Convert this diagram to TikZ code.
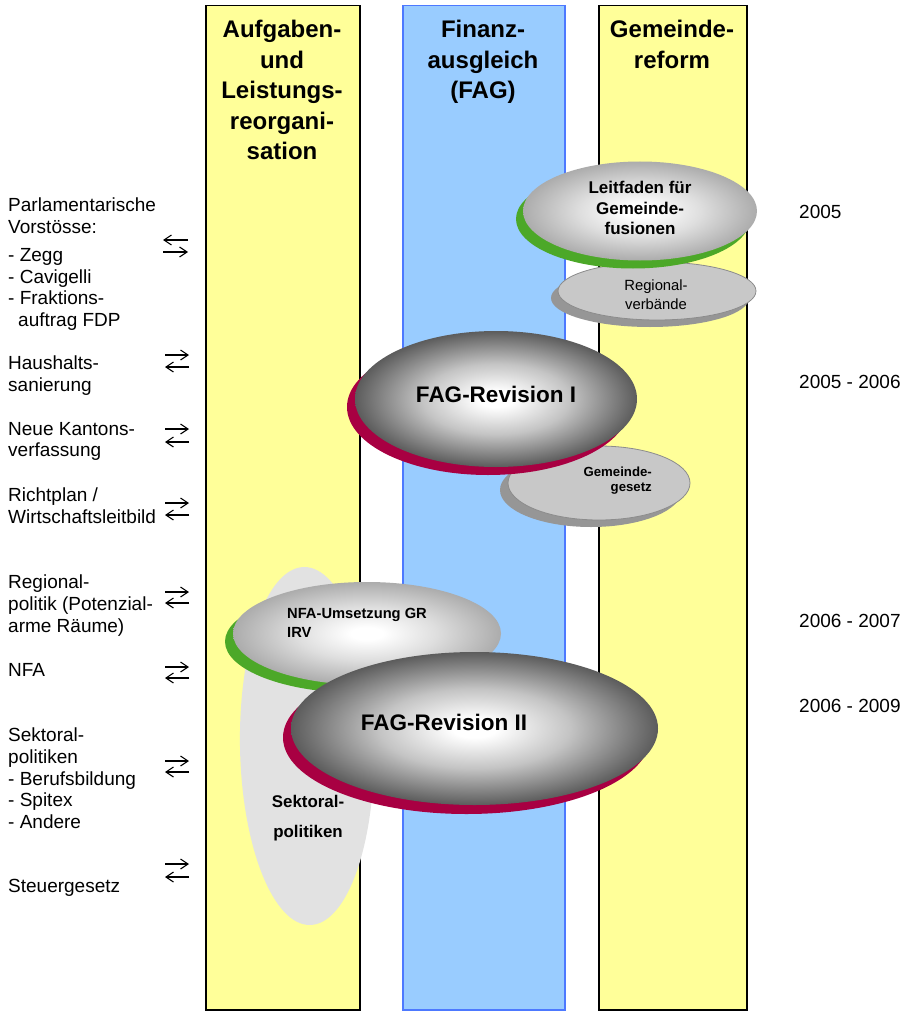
\documentclass[tikz,border=0pt]{standalone}
\usepackage{fontspec}
\setmainfont{Liberation Sans}
\usetikzlibrary{shapes.geometric,arrows.meta}
\definecolor{colyellow}{RGB}{255,255,153}
\definecolor{colblue}{RGB}{153,204,255}
\definecolor{colblueline}{RGB}{77,121,255}
\definecolor{shadgreen}{RGB}{76,168,40}
\definecolor{shadred}{RGB}{168,0,66}
\definecolor{darkedge}{RGB}{92,92,92}
\definecolor{darkmid}{RGB}{196,196,196}
\definecolor{lightedge}{RGB}{172,172,172}
\definecolor{lightmid}{RGB}{222,222,222}
\definecolor{diskface}{RGB}{200,200,200}
\definecolor{diskline}{RGB}{140,140,140}
\definecolor{diskshadow}{RGB}{150,150,150}
\definecolor{sektfill}{RGB}{226,226,226}
\pgfdeclareradialshading{darkball}{\pgfpoint{0bp}{0bp}}{color(0bp)=(white); color(3bp)=(white); color(13bp)=(darkmid); color(25bp)=(darkedge); color(50bp)=(darkedge)}
\pgfdeclareradialshading{lightball}{\pgfpoint{0bp}{0bp}}{color(0bp)=(white); color(3bp)=(white); color(13bp)=(lightmid); color(25bp)=(lightedge); color(50bp)=(lightedge)}
\tikzset{
  ybox/.style={draw=black, line width=1.5pt, fill=colyellow, inner sep=0pt, anchor=north west, minimum height=1004pt},
  bbox/.style={draw=colblueline, line width=1.5pt, fill=colblue, inner sep=0pt, anchor=north west, minimum height=1004pt},
  head/.style={anchor=north, inner sep=0pt, align=center, font=\fontsize{24}{30.5}\selectfont\bfseries},
  lefttext/.style={anchor=north west, inner sep=0pt, align=left, font=\fontsize{19}{21.6}\selectfont},
  yeartext/.style={anchor=base west, inner sep=0pt, font=\fontsize{19}{21.6}\selectfont},
  ell/.style={ellipse, inner sep=0pt, outer sep=0pt, draw=none},
  darkface/.style={ell, shade, shading=darkball},
  lightface/.style={ell, shade, shading=lightball},
  diskf/.style={ell, fill=diskface, draw=diskline, line width=0.8pt},
  disks/.style={ell, fill=diskshadow},
  dblarrow/.style={line width=1.1pt, -{Straight Barb[length=7.5pt,width=10pt]}}
}
\begin{document}
\begin{tikzpicture}[x=1pt,y=-1pt]
\useasboundingbox (0,0) rectangle (908,1011);
% columns
\node[ybox, minimum width=154pt] (col1) at (205,5) {};
\node[bbox, minimum width=162pt] (col2) at (402,5) {};
\node[ybox, minimum width=148pt] (col3) at (598,5) {};
% headers
\node[head] (h1) at (282,20.3) {Aufgaben-\\und\\Leistungs-\\reorgani-\\sation};
\node[head] (h2) at (483,20.3) {Finanz-\\ausgleich\\(FAG)};
\node[head] (h3) at (672,20.3) {Gemeinde-\\reform};
% Sektoralpolitiken
\node[ell, fill=sektfill, minimum width=134pt, minimum height=358pt, rotate=1] (sekt) at (307,746) {};
% NFA
\node[ell, fill=shadgreen, minimum width=268pt, minimum height=103pt] (nfash) at (359,641.5) {};
\node[lightface, minimum width=268pt, minimum height=103pt] (nfa) at (367,633.5) {};
% FAG II
\node[ell, fill=shadred, minimum width=367pt, minimum height=153pt] (fag2sh) at (466.5,737.5) {};
\node[darkface, minimum width=367pt, minimum height=153pt] (fag2) at (474.5,728.5) {};
% Regionalverbaende
\node[disks, minimum width=198pt, minimum height=58pt] (regsh) at (650,298) {};
\node[diskf, minimum width=198pt, minimum height=58pt] (reg) at (657,291) {};
% Leitfaden
\node[ell, fill=shadgreen, minimum width=234pt, minimum height=99pt] (leitsh) at (633,219) {};
\node[lightface, minimum width=234pt, minimum height=99pt] (leit) at (640,211) {};
% Gemeindegesetz
\node[disks, minimum width=182pt, minimum height=74pt] (gemsh) at (591,490) {};
\node[diskf, minimum width=182pt, minimum height=74pt] (gem) at (599,483) {};
% FAG I
\node[ell, fill=shadred, minimum width=282pt, minimum height=136pt] (fag1sh) at (488,407) {};
\node[darkface, minimum width=282pt, minimum height=136pt] (fag1) at (496,399) {};
% ellipse texts
\node[anchor=north, inner sep=0pt, align=center, font=\fontsize{17}{20.5}\selectfont\bfseries] (leitt) at (640,181) {Leitfaden für\\Gemeinde-\\fusionen};
\node[anchor=north, inner sep=0pt, align=center, font=\fontsize{14.8}{18.3}\selectfont] (regt) at (656,280) {Regional-\\verbände};
\node[anchor=north, inner sep=0pt, align=center, font=\fontsize{22.5}{27}\selectfont\bfseries] (fag1t) at (496,386) {FAG-Revision I};
\node[anchor=north east, inner sep=0pt, align=right, font=\fontsize{13.2}{15}\selectfont\bfseries] (gemt) at (652,467) {Gemeinde-\\gesetz};
\node[anchor=north west, inner sep=0pt, align=left, font=\fontsize{14.7}{19}\selectfont\bfseries] (nfat) at (287,608.5) {NFA-Umsetzung GR\\IRV};
\node[anchor=north, inner sep=0pt, align=center, font=\fontsize{22.5}{27}\selectfont\bfseries] (fag2t) at (444,713.5) {FAG-Revision II};
\node[anchor=north, inner sep=0pt, align=center, font=\fontsize{16.9}{30}\selectfont\bfseries] (sektt) at (308,795) {Sektoral-\\politiken};
% left texts
\node[lefttext] (la) at (8,197.9) {Parlamentarische\\Vorstösse:\\[6.5pt]- Zegg\\- Cavigelli\\- Fraktions-\\\hspace*{10pt}auftrag FDP};
\node[lefttext] (lb) at (8,355.9) {Haushalts-\\sanierung};
\node[lefttext] (lc) at (8,421.9) {Neue Kantons-\\verfassung};
\node[lefttext] (ld) at (8,487.9) {Richtplan /\\Wirtschaftsleitbild};
\node[lefttext] (le) at (8,574.9) {Regional-\\politik (Potenzial-\\arme Räume)};
\node[lefttext] (lf) at (8,662.9) {NFA};
\node[lefttext] (lg) at (8,727.9) {Sektoral-\\politiken\\- Berufsbildung\\- Spitex\\- Andere};
\node[lefttext] (lh) at (8,878.9) {Steuergesetz};
% years
\node[yeartext] (y1) at (799,218.5) {2005};
\node[yeartext] (y2) at (799,388.5) {2005 - 2006};
\node[yeartext] (y3) at (799,627.5) {2006 - 2007};
\node[yeartext] (y4) at (799,712.5) {2006 - 2009};
% arrows
\coordinate (aL1) at (163,240); \coordinate (aR1) at (188,240);
\coordinate (aL2) at (163,252); \coordinate (aR2) at (188,252);
\draw[dblarrow] (aR1) -- (aL1);
\draw[dblarrow] (aL2) -- (aR2);
\foreach \n/\ya/\yb in {b/355/367, c/429/442, d/503/515, e/592/603, f/667/678, g/761/772, h/864/877}{
  \coordinate (\n L1) at (165,\ya); \coordinate (\n R1) at (189,\ya);
  \coordinate (\n L2) at (165,\yb); \coordinate (\n R2) at (189,\yb);
  \draw[dblarrow] (\n L1) -- (\n R1);
  \draw[dblarrow] (\n R2) -- (\n L2);
}
\end{tikzpicture}
\end{document}
